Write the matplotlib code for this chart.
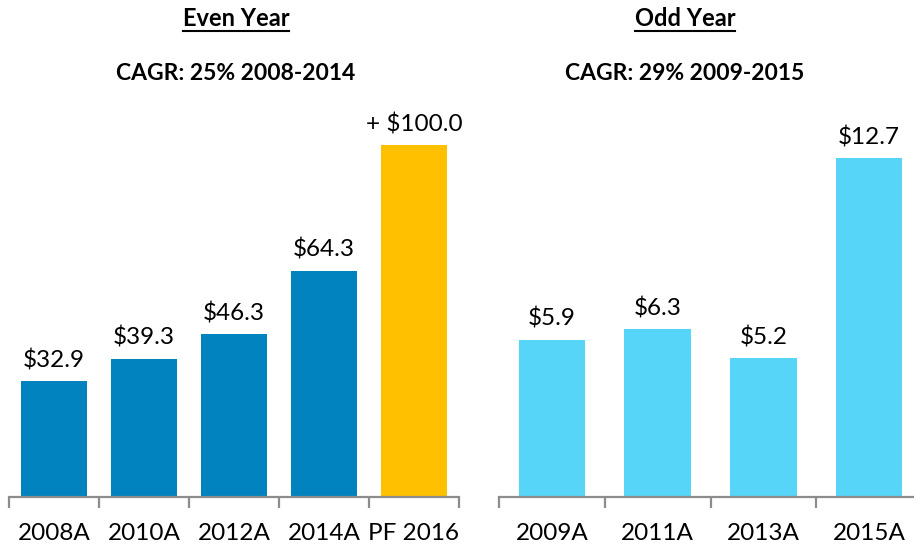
import matplotlib.pyplot as plt
from matplotlib.lines import Line2D

plt.rcParams['font.family'] = ['Lato', 'DejaVu Sans']

even_years = ['2008A', '2010A', '2012A', '2014A', 'PF 2016']
even_values = [32.9, 39.3, 46.3, 64.3, 100.0]
even_labels = ['$32.9', '$39.3', '$46.3', '$64.3', '+ $100.0']

odd_years = ['2009A', '2011A', '2013A', '2015A']
odd_values = [5.9, 6.3, 5.2, 12.7]
odd_labels = ['$5.9', '$6.3', '$5.2', '$12.7']

W, H = 914, 547
fig = plt.figure(figsize=(W / 100, H / 100), dpi=100)

ax1 = fig.add_axes([9 / W, 50 / H, 450 / W, 400 / H])
ax2 = fig.add_axes([499 / W, 50 / H, 423 / W, 400 / H])

blue = '#0083BE'
gold = '#FFC000'
cyan = '#56D5F8'
grey = '#8C8C8C'


def style(ax, n, ymax):
    ax.set_xlim(-0.5, n - 0.5)
    ax.set_ylim(0, ymax)
    for s in ['top', 'right', 'left']:
        ax.spines[s].set_visible(False)
    ax.spines['bottom'].set_color(grey)
    ax.spines['bottom'].set_linewidth(1.6)
    ax.set_yticks([])
    ax.set_xticks(range(n))
    ax.set_xticks([i - 0.5 for i in range(n + 1)], minor=True)
    ax.tick_params(axis='x', which='major', length=0, pad=19, labelsize=17.5)
    ax.tick_params(axis='x', which='minor', length=8, width=1.6, color=grey)


# left panel
colors1 = [blue] * 4 + [gold]
bars1 = ax1.bar(range(len(even_values)), even_values, width=0.73, color=colors1)
style(ax1, len(even_values), 113.6)
ax1.set_xticklabels(even_years)
for b, lab in zip(bars1, even_labels):
    ax1.annotate(lab, (b.get_x() + b.get_width() / 2, b.get_height()),
                 xytext=(0, 7), textcoords='offset points',
                 ha='center', va='bottom', fontsize=17.5)

# right panel
bars2 = ax2.bar(range(len(odd_values)), odd_values, width=0.63, color=cyan)
style(ax2, len(odd_values), 15.0)
ax2.set_xticklabels(odd_years)
for b, lab in zip(bars2, odd_labels):
    ax2.annotate(lab, (b.get_x() + b.get_width() / 2, b.get_height()),
                 xytext=(0, 7), textcoords='offset points',
                 ha='center', va='bottom', fontsize=17.5)

# titles
titles = [('Even Year', 'CAGR: 25% 2008-2014', 236), ('Odd Year', 'CAGR: 29% 2009-2015', 685)]
fig.canvas.draw()
r = fig.canvas.get_renderer()
for t, sub, xc in titles:
    tt = fig.text(xc / W, 1 - 18 / H, t, ha='center', va='center',
                  fontsize=17, fontweight='bold')
    fig.text(xc / W, 1 - 73 / H, sub, ha='center', va='center',
             fontsize=16.5, fontweight='bold')
    bb = tt.get_window_extent(renderer=r)
    yl = bb.y0 - 1
    fig.add_artist(Line2D([bb.x0 / W, bb.x1 / W], [yl / H, yl / H],
                          color='black', linewidth=1.5))

fig.savefig('out.png', dpi=100)
